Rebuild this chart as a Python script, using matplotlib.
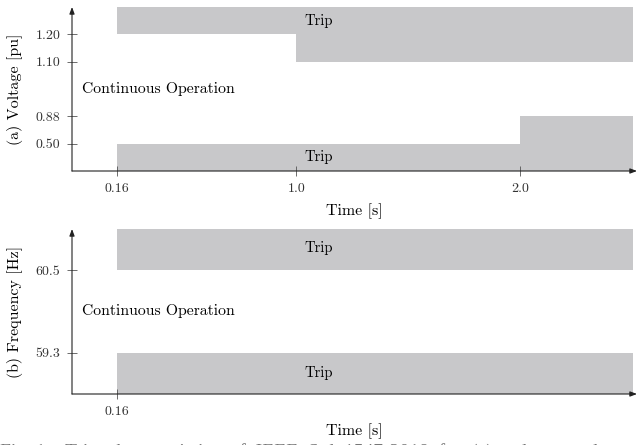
import numpy as np
import matplotlib
matplotlib.use("Agg")
import matplotlib.pyplot as plt

plt.rcParams["font.family"] = "serif"
plt.rcParams["font.serif"] = ["cmr10", "DejaVu Serif"]
plt.rcParams["axes.formatter.use_mathtext"] = True
plt.rcParams["mathtext.fontset"] = "cm"

# ---- data -------------------------------------------------------------
# Voltage trip limits (step functions of time)
v_hi_time = [0.16, 1.0, 2.5]
v_hi_limit = [1.20, 1.10, 1.10]
v_lo_time = [0.16, 2.0, 2.5]
v_lo_limit = [0.50, 0.88, 0.88]
v_ticks = [0.50, 0.88, 1.10, 1.20]
v_tick_labels = ["0.50", "0.88", "1.10", "1.20"]
v_range = (0.0, 1.5)

# Frequency trip limits
f_time = [0.16, 2.5]
f_hi_limit = [60.5, 60.5]
f_lo_limit = [59.3, 59.3]
f_ticks = [59.3, 60.5]
f_tick_labels = ["59.3", "60.5"]
f_range = (58.7, 61.1)

t_ticks_a = [0.16, 1.0, 2.0]
t_tick_labels_a = ["0.16", "1.0", "2.0"]
t_ticks_b = [0.16]
t_tick_labels_b = ["0.16"]
t_max = 2.52

# ---- non-uniform axis scales ----------------------------------------
t_val = [0.0, 0.16, 1.0, 3.0]
t_pos = [0.0, 0.2, 1.0, 3.0]
v_val = [0.0, 0.50, 0.88, 1.10, 1.20, 1.50]
v_pos = [0.0, 1.0, 2.0, 4.0, 5.0, 6.0]


def t_fwd(x):
    return np.interp(x, t_val, t_pos)


def t_inv(x):
    return np.interp(x, t_pos, t_val)


def v_fwd(y):
    return np.interp(y, v_val, v_pos)


def v_inv(y):
    return np.interp(y, v_pos, v_val)


GREY = "#c8c8ca"
AXC = "#555555"
TXT = 10.5
LBL = 11.5
TICK = 10

W, H = 639, 445
fig = plt.figure(figsize=(W / 100, H / 100), dpi=100)
ax1 = fig.add_axes([72 / W, (H - 171) / H, (637 - 72) / W, (171 - 7) / H])
ax2 = fig.add_axes([72 / W, (H - 394) / H, (637 - 72) / W, (394 - 229) / H])


def style(ax):
    for s in ax.spines.values():
        s.set_visible(False)
    ax.tick_params(direction="inout", length=7, width=0.6, color=AXC,
                   labelsize=TICK, labelcolor="#333333", pad=5)
    ax.annotate("", xy=(1, 0), xytext=(0, 0), xycoords="axes fraction",
                arrowprops=dict(arrowstyle="-|>,head_length=0.4,head_width=0.15",
                                color="#222222", lw=0.8, shrinkA=0, shrinkB=0))
    ax.annotate("", xy=(0, 1), xytext=(0, 0), xycoords="axes fraction",
                arrowprops=dict(arrowstyle="-|>,head_length=0.4,head_width=0.15",
                                color="#222222", lw=0.8, shrinkA=0, shrinkB=0))


# (a) voltage
ax1.set_xscale("function", functions=(t_fwd, t_inv))
ax1.set_yscale("function", functions=(v_fwd, v_inv))
ax1.fill_between(v_hi_time, v_hi_limit, v_range[1], step="post",
                 color=GREY, lw=0)
ax1.fill_between(v_lo_time, v_range[0], v_lo_limit, step="post",
                 color=GREY, lw=0)
ax1.set_xlim(0, t_max)
ax1.set_ylim(*v_range)
ax1.set_xticks(t_ticks_a, t_tick_labels_a)
ax1.set_yticks(v_ticks, v_tick_labels)
ax1.minorticks_off()
ax1.text(1.1, 1.35, "Trip", ha="center", va="center", fontsize=TXT)
ax1.text(1.1, 0.25, "Trip", ha="center", va="center", fontsize=TXT)
ax1.text(0.035, 0.99, "Continuous Operation", ha="left", va="center",
         fontsize=11.3)
ax1.set_xlabel("Time [s]", fontsize=LBL, labelpad=6)
ax1.set_ylabel("(a) Voltage [pu]", fontsize=LBL, labelpad=9)
style(ax1)

# (b) frequency
ax2.set_xscale("function", functions=(t_fwd, t_inv))
ax2.fill_between(f_time, f_hi_limit, f_range[1], color=GREY, lw=0)
ax2.fill_between(f_time, f_range[0], f_lo_limit, color=GREY, lw=0)
ax2.set_xlim(0, t_max)
ax2.set_ylim(*f_range)
ax2.set_xticks(t_ticks_b, t_tick_labels_b)
ax2.set_yticks(f_ticks, f_tick_labels)
ax2.minorticks_off()
ax2.text(1.1, 60.82, "Trip", ha="center", va="center", fontsize=TXT)
ax2.text(1.1, 59.0, "Trip", ha="center", va="center", fontsize=TXT)
ax2.text(0.035, 59.9, "Continuous Operation", ha="left", va="center",
         fontsize=11.3)
ax2.set_xlabel("Time [s]", fontsize=LBL, labelpad=4)
ax2.set_ylabel("(b) Frequency [Hz]", fontsize=LBL, labelpad=9)
style(ax2)

# first line of the figure caption, running off the lower page edge
fig.text(0.0, 1 - 443 / H,
         "Fig. 1:   Trip  characteristics  of  IEEE  Std  1547-2018  for  (a)  voltage  and",
         ha="left", va="top", fontsize=14, color="#777777",
         family=["Liberation Serif"])

fig.savefig("out.png", dpi=100)
